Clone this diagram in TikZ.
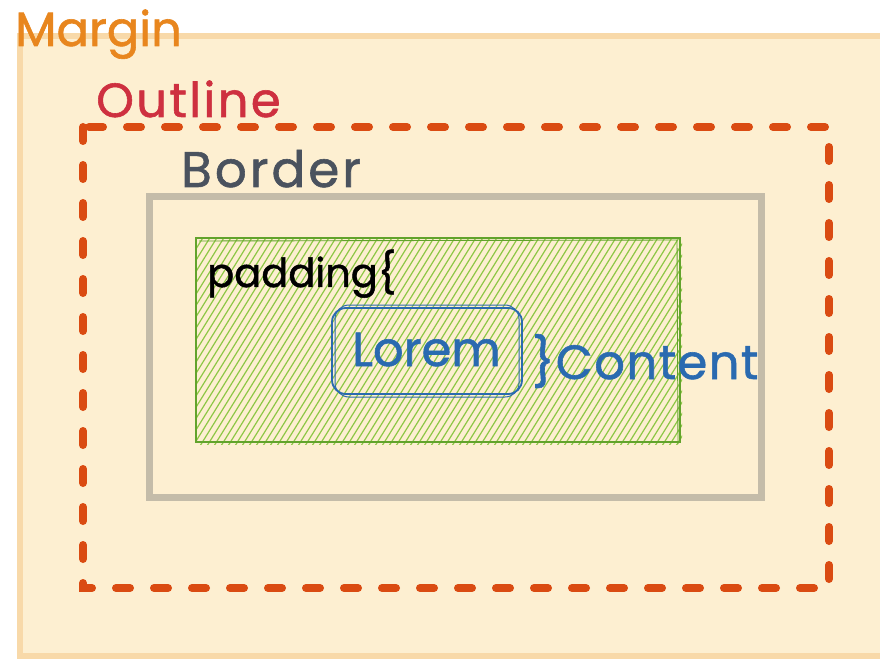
\documentclass[tikz,border=0pt]{standalone}
\usepackage{fontspec}
\setmainfont{Poppins}
\definecolor{marginfill}{HTML}{FDEFD1}
\definecolor{marginline}{HTML}{F8D9A9}
\definecolor{margintext}{HTML}{E8861E}
\definecolor{outlineline}{HTML}{DA4B12}
\definecolor{outlinetext}{HTML}{CE3040}
\definecolor{borderline}{HTML}{C4BCA9}
\definecolor{bordertext}{HTML}{4A525E}
\definecolor{padhatch}{HTML}{8DC745}
\definecolor{padline}{HTML}{62A32C}
\definecolor{contentblue}{HTML}{2A6AB0}
\newcommand{\lblfont}[2]{\fontsize{#1}{#1}\selectfont\addfontfeature{LetterSpace=#2,FakeBold=1.2}}
\tikzset{
  lbl/.style={inner sep=0pt, anchor=base west},
  marginbox/.style={draw=marginline, fill=marginfill, line width=6},
  outlinebox/.style={draw=outlineline, line width=8, line cap=round, dash pattern=on 14 off 24},
  borderbox/.style={draw=borderline, line width=7},
  hatchline/.style={draw=padhatch, line width=1.2},
  padbox/.style={draw=padline, line width=1.6},
  contentbox/.style={draw=contentblue, line width=1.8, rounded corners=14}
}
\begin{document}
\begin{tikzpicture}[x=1pt,y=-1pt]
\useasboundingbox (0,0) rectangle (880,660);
\fill[white] (0,0) rectangle (880,660);
\draw[marginbox] (20,36) rectangle (890,656);
\draw[outlinebox] (83,127) rectangle (829,588);
\draw[borderbox] (149,197) rectangle (761,497);
\begin{scope}
  \clip (196,238) rectangle (682,444);
  \foreach \i in {0,...,90} {
    \draw[hatchline] (60+7*\i,446) -- (190+7*\i,236);
  }
\end{scope}
\draw[padbox] (196,238) rectangle (680,442);
\draw[padbox, line width=0.9] (199,241) -- (677,240) -- (678,444);
\draw[contentbox] (332,308) rectangle (522,394);
\draw[contentbox, line width=1] (335,305) rectangle (519,397);
\node[lbl, text=margintext, font=\lblfont{48}{0}] (margin) at (15,46) {Margin};
\node[lbl, text=outlinetext, font=\lblfont{48}{5}] (outline) at (96,117) {Outline};
\node[lbl, text=bordertext, font=\lblfont{50}{6}] (border) at (181,187) {Border};
\node[lbl, text=black, font=\lblfont{40}{0}] (padding) at (207,287) {padding\{};
\node[lbl, text=contentblue, font=\lblfont{48}{0}] (lorem) at (352,366) {Lorem};
\node[lbl, text=contentblue, font=\lblfont{48}{3}] (content) at (532,379) {\}Content};
\end{tikzpicture}
\end{document}
